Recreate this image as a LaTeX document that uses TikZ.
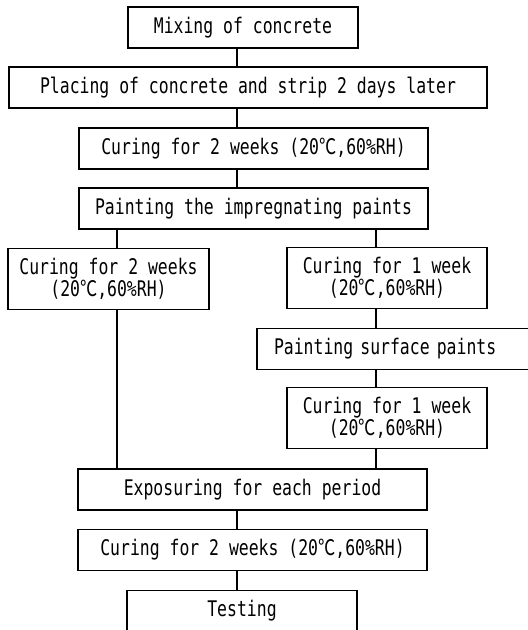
\documentclass[tikz,border=0pt]{standalone}
\usepackage{fontspec}
\newfontfamily\boxfont[FakeStretch=0.765]{DejaVu Sans Mono}
\newfontfamily\cjk[FakeStretch=0.8]{Noto Sans CJK JP}
\newcommand{\degc}{{\cjk ℃}}
\usetikzlibrary{positioning}

\begin{document}
\begin{tikzpicture}[x=1pt, y=-1pt,
    font=\boxfont\fontsize{21.5}{20}\selectfont,
    kotak/.style={draw, line width=1.6pt, minimum height=41pt, inner sep=0pt,
                  align=center},
    tinggi/.style={kotak, minimum height=61pt},
    garis/.style={line width=1.6pt}
  ]
    \useasboundingbox (0,0) rectangle (528,630);
    \clip (0,0) rectangle (528,630);
    % main line
    \node[kotak, minimum width=230pt] (mix) at (243,27.5) {Mixing of concrete};
    \node[kotak, minimum width=478pt] (place) at (248,87.5)
      {Placing of concrete and strip 2 days later};
    \node[kotak, minimum width=349pt] (cure1) at (253.5,148.5)
      {Curing for 2 weeks (20\degc,60\%RH)};
    \node[kotak, minimum width=349pt] (impreg) at (253.5,208.5)
      {Painting the impregnating paints};
    % two branches
    \node[tinggi, minimum width=201pt] (cureL) at (108.5,279)
      {Curing for 2 weeks\\(20\degc,60\%RH)};
    \node[tinggi, minimum width=200pt] (cureR1) at (387,278)
      {Curing for 1 week\\(20\degc,60\%RH)};
    \node[kotak, text width=270pt, align=left, inner xsep=17pt] (surf) at (409,349)
      {Painting surface paints};
    \node[tinggi, minimum width=200pt] (cureR2) at (387,418)
      {Curing for 1 week\\(20\degc,60\%RH)};
    % back together
    \node[kotak, minimum width=349pt] (expo) at (252.5,489.5)
      {Exposuring for each period};
    \node[kotak, minimum width=349pt] (cure2) at (252.5,550)
      {Curing for 2 weeks (20\degc,60\%RH)};
    \node[kotak, minimum width=230pt] (test) at (242,611) {Testing};

    \coordinate (trunk) at (237,0);
    \coordinate (lft) at (117,0);
    \coordinate (rgt) at (376,0);
    \foreach \a/\b in {mix/place, place/cure1, cure1/impreg, expo/cure2, cure2/test}
      \draw[garis] (\a.south -| trunk) -- (\b.north -| trunk);
    \foreach \a/\b in {impreg/cureL, cureL/expo}
      \draw[garis] (\a.south -| lft) -- (\b.north -| lft);
    \foreach \a/\b in {impreg/cureR1, cureR1/surf, surf/cureR2, cureR2/expo}
      \draw[garis] (\a.south -| rgt) -- (\b.north -| rgt);
\end{tikzpicture}
\end{document}
